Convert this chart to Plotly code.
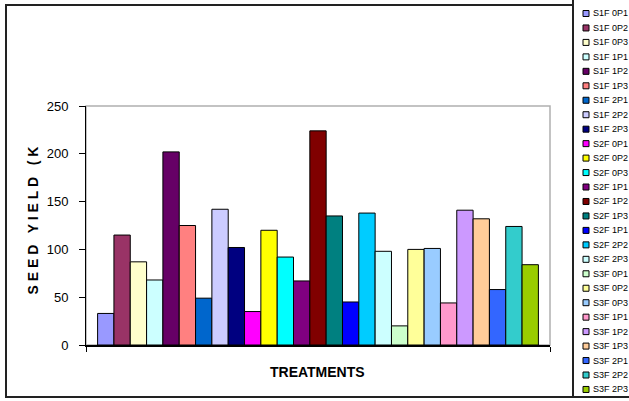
import plotly.graph_objects as go

treatments = ["S1F 0P1", "S1F 0P2", "S1F 0P3", "S1F 1P1", "S1F 1P2", "S1F 1P3",
              "S1F 2P1", "S1F 2P2", "S1F 2P3", "S2F 0P1", "S2F 0P2", "S2F 0P3",
              "S2F 1P1", "S2F 1P2", "S2F 1P3", "S2F 1P1", "S2F 2P2", "S2F 2P3",
              "S3F 0P1", "S3F 0P2", "S3F 0P3", "S3F 1P1", "S3F 1P2", "S3F 1P3",
              "S3F 2P1", "S3F 2P2", "S3F 2P3"]
seed_yield = [33, 115, 87, 68, 202, 125, 49, 142, 102, 35, 120, 92, 67, 224, 135,
              45, 138, 98, 20, 100, 101, 44, 141, 132, 58, 124, 84]
colors = ["#9999FF", "#993366", "#FFFFCC", "#CCFFFF", "#660066", "#FF8080",
          "#0066CC", "#CCCCFF", "#000080", "#FF00FF", "#FFFF00", "#00FFFF",
          "#800080", "#800000", "#008080", "#0000FF", "#00CCFF", "#CCFFFF",
          "#CCFFCC", "#FFFF99", "#99CCFF", "#FF99CC", "#CC99FF", "#FFCC99",
          "#3366FF", "#33CCCC", "#99CC00"]
y_ticks = [0, 50, 100, 150, 200, 250]
category = ["TREATMENTS"]

W, H = 629, 401
ML, MR, MT, MB = 86, 79, 106, 56
PW, PH = W - ML - MR, H - MT - MB


def px(x):
    return (x - ML) / PW


def py(y):
    return (H - MB - y) / PH


FONT = "Arial, Liberation Sans, sans-serif"

fig = go.Figure()
for name, val, col in zip(treatments, seed_yield, colors):
    fig.add_trace(go.Bar(
        x=category, y=[val], name=name,
        marker=dict(color=col, line=dict(color="#000000", width=1)),
        showlegend=False,
    ))

shapes = []
annotations = []

# plot area border (grey)
shapes.append(dict(type="rect", xref="paper", yref="paper", x0=0, x1=1, y0=0, y1=1,
                   line=dict(color="#B0B0B0", width=1.5), layer="below"))
# chart area border
shapes.append(dict(type="rect", xref="paper", yref="paper",
                   x0=px(6), x1=px(573), y0=py(397), y1=py(5),
                   line=dict(color="#222222", width=2)))
# legend box edges
shapes.append(dict(type="line", xref="paper", yref="paper",
                   x0=px(573), x1=px(573), y0=py(397), y1=py(-2),
                   line=dict(color="#222222", width=2)))
shapes.append(dict(type="line", xref="paper", yref="paper",
                   x0=px(573), x1=px(632), y0=py(397), y1=py(397),
                   line=dict(color="#222222", width=2)))

# legend entries built from the data lists
for i, (name, col) in enumerate(zip(treatments, colors)):
    yc = 13.5 + i * 14.46
    shapes.append(dict(type="rect", xref="paper", yref="paper",
                       x0=px(583), x1=px(589), y0=py(yc + 3), y1=py(yc - 3),
                       fillcolor=col, line=dict(color="#000000", width=1)))
    annotations.append(dict(xref="paper", yref="paper", x=px(590.5), y=py(yc),
                            text=name, showarrow=False, xanchor="left", yanchor="middle",
                            font=dict(family=FONT, size=9, color="#000000")))

# axis titles
annotations.append(dict(xref="paper", yref="paper", x=px(32), y=py(220.5),
                        text="S E E D   Y I E L D   ( K", textangle=-90, showarrow=False,
                        xanchor="center", yanchor="middle",
                        font=dict(family=FONT, size=14, color="#000000", weight="bold")))
annotations.append(dict(xref="paper", yref="paper", x=px(317), y=py(372),
                        text="TREATMENTS", showarrow=False,
                        xanchor="center", yanchor="middle",
                        font=dict(family=FONT, size=14, color="#000000", weight="bold")))

fig.update_layout(
    width=W, height=H,
    margin=dict(l=ML, r=MR, t=MT, b=MB, pad=0),
    paper_bgcolor="#FFFFFF", plot_bgcolor="#FFFFFF",
    barmode="group", bargap=0.05, bargroupgap=0,
    shapes=shapes, annotations=annotations,
    font=dict(family=FONT, color="#000000"),
    xaxis=dict(type="category", showticklabels=False, tickson="boundaries",
               ticks="outside", ticklen=5, tickcolor="#000000",
               showline=True, linecolor="#000000", linewidth=1.5,
               showgrid=False, zeroline=False, fixedrange=True),
    yaxis=dict(range=[0, 250], tickvals=y_ticks, ticks="outside", ticklen=6,
               tickcolor="#000000", showline=True, linecolor="#000000", linewidth=1,
               showgrid=False, zeroline=False, ticklabelstandoff=8,
               tickfont=dict(family=FONT, size=13, color="#000000")),
)

fig.write_html("out.html", config={"displayModeBar": False},
               post_script="document.body.style.margin='0';document.body.style.padding='0';")
